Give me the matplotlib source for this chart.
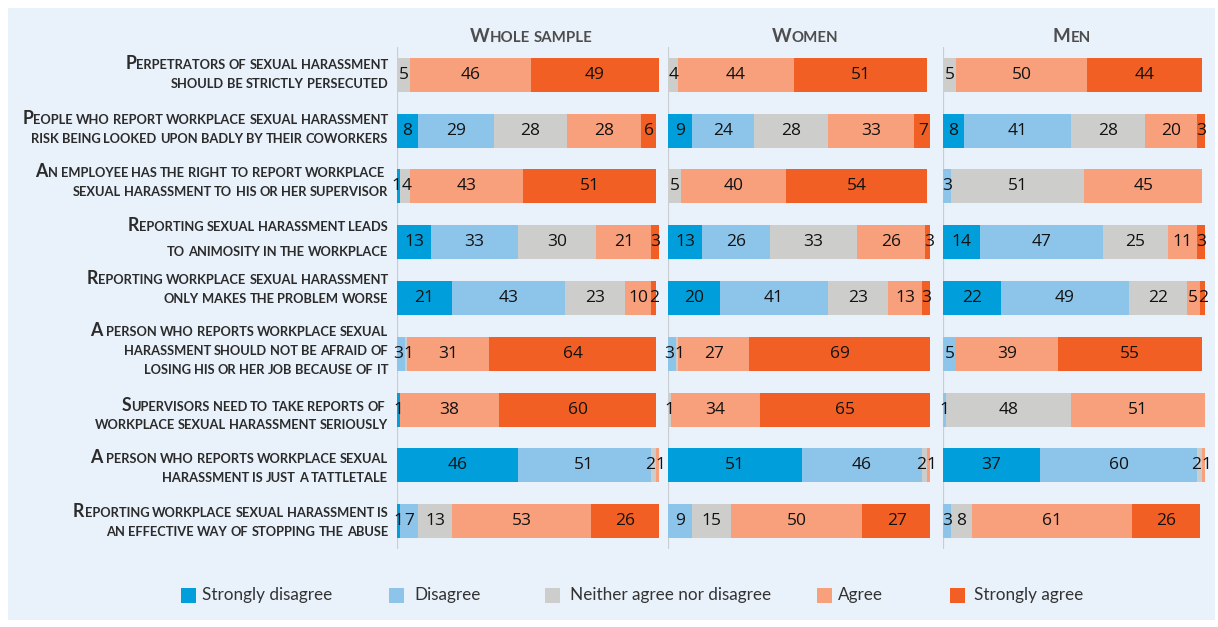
import matplotlib
matplotlib.use("Agg")
import matplotlib.pyplot as plt
from matplotlib.patches import Rectangle
from matplotlib.font_manager import FontProperties

# ---------------- data ----------------
categories = [
    "Perpetrators of sexual harassment\nshould be strictly persecuted",
    "People who report workplace sexual harassment\nrisk being looked upon badly by their coworkers",
    "An employee has the right to report workplace \nsexual harassment to his or her supervisor",
    "Reporting sexual harassment leads\nto animosity in the workplace",
    "Reporting workplace sexual harassment\nonly makes the problem worse",
    "A person who reports workplace sexual\nharassment should not be afraid of\nlosing his or her job because of it",
    "Supervisors need to take reports of \nworkplace sexual harassment seriously",
    "A person who reports workplace sexual\nharassment is just a tattletale",
    "Reporting workplace sexual harassment is\nan effective way of stopping the abuse",
]
panels = ["Whole sample", "Women", "Men"]
responses = ["Strongly disagree", "Disagree", "Neither agree nor disagree", "Agree", "Strongly agree"]

whole_sd = [0, 8, 1, 13, 21, 0, 1, 46, 1]
whole_d = [0, 29, 0, 33, 43, 3, 0, 51, 7]
whole_n = [5, 28, 4, 30, 23, 1, 0, 2, 13]
whole_a = [46, 28, 43, 21, 10, 31, 38, 1, 53]
whole_sa = [49, 6, 51, 3, 2, 64, 60, 0, 26]

women_sd = [0, 9, 0, 13, 20, 0, 0, 51, 0]
women_d = [0, 24, 0, 26, 41, 3, 0, 46, 9]
women_n = [4, 28, 5, 33, 23, 1, 1, 2, 15]
women_a = [44, 33, 40, 26, 13, 27, 34, 1, 50]
women_sa = [51, 7, 54, 3, 3, 69, 65, 0, 27]

men_sd = [0, 8, 0, 14, 22, 0, 0, 37, 0]
men_d = [0, 41, 3, 47, 49, 5, 1, 60, 3]
men_n = [5, 28, 51, 25, 22, 0, 48, 2, 8]
men_a = [50, 20, 45, 11, 5, 39, 51, 1, 61]
men_sa = [44, 3, 0, 3, 2, 55, 0, 0, 26]

panel_data = [
    [whole_sd, whole_d, whole_n, whole_a, whole_sa],
    [women_sd, women_d, women_n, women_a, women_sa],
    [men_sd, men_d, men_n, men_a, men_sa],
]

# ---------------- style ----------------
colors = ["#009FDB", "#8DC4EA", "#CDCDCB", "#F89F7B", "#F25F25"]
BG = "#E9F1FB"
W, H = 1218, 627
FAM = ["Lato", "DejaVu Sans"]
NUMFAM = ["Open Sans", "DejaVu Sans"]
NUMSIZE = 12.5

fig = plt.figure(figsize=(W / 100, H / 100), dpi=100)
fig.patch.set_facecolor("white")
fig.add_artist(Rectangle((8 / W, 1 - 620 / H), (1215 - 8) / W, (620 - 8) / H,
                         transform=fig.transFigure, facecolor=BG, edgecolor="none", zorder=-10))

renderer = fig.canvas.get_renderer()


def text_width(s, size, weight, fam=FAM):
    fp = FontProperties(family=fam, size=size, weight=weight)
    w1, _, _ = renderer.get_text_width_height_descent("|" + s + "|", fp, ismath=False)
    w0, _, _ = renderer.get_text_width_height_descent("||", fp, ismath=False)
    return w1 - w0


def small_caps(x, ybase, s, big, small, color, weight="bold", align="right"):
    toks = []
    for ch in s:
        if ch == " ":
            key = ("space", False)
        else:
            key = ("big", True) if ch.isupper() else ("small", False)
        if toks and toks[-1][1] == key:
            toks[-1][0] += ch.upper()
        else:
            toks.append([ch.upper(), key])
    widths = [text_width(t, big if key[1] else small, weight) for t, key in toks]
    total = sum(widths)
    cx = x - total if align == "right" else x - total / 2
    for (t, key), w in zip(toks, widths):
        if key[0] != "space":
            fig.text(cx / W, 1 - ybase / H, t, ha="left", va="baseline",
                     fontsize=big if key[1] else small, fontweight=weight,
                     color=color, family=FAM)
        cx += w


# ---------------- panels ----------------
panel_x0 = [397, 668, 943]
panel_w = 262
ax_top, ax_bot = 47, 549
bar_h = 0.61
px_per_unit = panel_w / 100.0

for p, x0 in enumerate(panel_x0):
    ax = fig.add_axes([x0 / W, 1 - ax_bot / H, panel_w / W, (ax_bot - ax_top) / H])
    ax.set_xlim(0, 100)
    ax.set_ylim(len(categories) - 0.5, -0.5)
    ax.axis("off")
    ax.patch.set_alpha(0)
    ax.axvline(0, color="#C9CDD2", lw=1.6, zorder=0)
    series = panel_data[p]
    for i in range(len(categories)):
        left = 0
        labels = []
        for k in range(len(responses)):
            v = series[k][i]
            if v > 0:
                ax.barh(i, v, left=left, height=bar_h, color=colors[k], edgecolor="none", zorder=2)
                wpx = text_width(str(v), NUMSIZE, "medium", NUMFAM)
                labels.append([left + v / 2, str(v), wpx / px_per_unit])
            left += v
        # push neighbouring labels apart where they would collide
        for _ in range(4):
            for j in range(len(labels) - 1):
                a, b = labels[j], labels[j + 1]
                need = (a[2] + b[2]) / 2 + 0.15
                gap = b[0] - a[0]
                if gap < need:
                    d = (need - gap) / 2
                    a[0] -= d
                    b[0] += d
        for xc, s, _ in labels:
            ax.text(xc, i, s, ha="center", va="center", fontsize=NUMSIZE,
                    fontweight="medium", color="#121212", family=NUMFAM, zorder=3)

# panel titles
title_cx = [531, 805, 1072]
for name, cx in zip(panels, title_cx):
    small_caps(cx, 41.7, name, 13.5, 10.8, "#4D4D4D", weight="bold", align="center")

# category labels
baselines = [[69.3, 88.3], [124, 142.7], [176.7, 195.7], [230.7, 256], [284.3, 302.7],
             [336, 355.3, 374.3], [410.7, 429.3], [463.3, 482.3], [517.3, 536]]
for cat, bl in zip(categories, baselines):
    for line, yb in zip(cat.split("\n"), bl):
        small_caps(388, yb, line, 12.8, 9.3, "#2B2B2B", weight="bold", align="right")

# legend
leg_sq = [181, 389, 545, 817, 950]
leg_tx = [202, 414, 570, 838, 974]
for k, lab in enumerate(responses):
    fig.add_artist(Rectangle((leg_sq[k] / W, 1 - 603 / H), 15 / W, 15 / H,
                             transform=fig.transFigure, facecolor=colors[k], edgecolor="none"))
    fig.text(leg_tx[k] / W, 1 - 595 / H, lab, ha="left", va="center",
             fontsize=12.3, color="#333333", family=FAM)

fig.savefig("out.png", dpi=100, facecolor=fig.get_facecolor())
